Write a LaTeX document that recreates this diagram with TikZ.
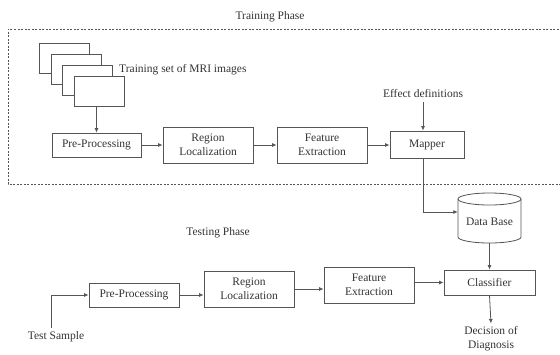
\documentclass[tikz,border=0pt]{standalone}
\usepackage{fontspec}
\setmainfont{Liberation Serif}
\usetikzlibrary{arrows.meta,calc}
\definecolor{ln}{HTML}{555555}
\definecolor{tx}{HTML}{333333}
\tikzset{
  lbl/.style={text=tx,font=\fontsize{11.5}{14}\selectfont,align=center,inner sep=0pt},
  blk/.style={draw=ln,line width=0.8pt,fill=white,text=tx,font=\fontsize{11.5}{14}\selectfont,align=center,inner sep=0pt,minimum width=#1},
  arr/.style={draw=ln,line width=0.8pt,-{Latex[length=4.5pt,width=4pt]}},
  img/.style={draw=ln,line width=0.8pt,fill=white,minimum width=50pt,minimum height=30pt,inner sep=0pt},
}
\begin{document}
\begin{tikzpicture}[x=1pt,y=-1pt]
\useasboundingbox (0,0) rectangle (560,354);
% training frame
\draw[ln,line width=0.6pt,dash pattern=on 2pt off 1.5pt] (562,29) -- (8,29) -- (8,184) -- (562,184);
\node[lbl] (trp) at (270,17) {Training Phase};
% image stack
\node[img] (img1) at (64,58) {};
\node[img] (img2) at (76,69) {};
\node[img] (img3) at (87,80) {};
\node[img] (img4) at (99,91) {};
\node[lbl,anchor=west] (imgt) at (119,70) {Training set of MRI images};
% training chain
\node[blk=89pt,minimum height=24pt] (pre1) at (96.5,145) {Pre-Processing};
\node[blk=90pt,minimum height=36pt] (reg1) at (208,145) {Region\\Localization};
\node[blk=90pt,minimum height=36pt] (fe1) at (322,145) {Feature\\Extraction};
\node[blk=74pt,minimum height=27pt] (map) at (427,144.5) {Mapper};
\node[lbl] (eff) at (423,94) {Effect definitions};
\draw[arr] (img4.south -| pre1.north) -- (pre1.north);
\draw[arr] (pre1.east) -- (reg1.west);
\draw[arr] (reg1.east) -- (fe1.west);
\draw[arr] (fe1.east) -- (fe1.east -| map.west);
\draw[arr] ($(eff.south)+(0,4)$) -- (eff.south |- map.north);
% database
\node[inner sep=0pt,minimum width=63pt,minimum height=50pt] (db) at (489.5,218) {};
\draw[ln,line width=0.8pt,fill=white] (458,199) -- (458,237) arc (180:0:31.5 and 6) -- (521,199) arc (0:-180:31.5 and 6) -- cycle;
\draw[ln,line width=0.8pt] (458,199) arc (180:0:31.5 and 6);
\node[lbl] (dbt) at (489.5,222) {Data Base};
\draw[arr] (eff.south |- map.south) |- ($(db.west)+(0,-6)$);
% testing
\node[lbl] (tsp) at (218,233) {Testing Phase};
\node[blk=90pt,minimum height=24pt] (pre2) at (134,295) {Pre-Processing};
\node[blk=90pt,minimum height=36pt] (reg2) at (249,289) {Region\\Localization};
\node[blk=90pt,minimum height=36pt] (fe2) at (369,285) {Feature\\Extraction};
\node[blk=91pt,minimum height=25pt] (cls) at (489.5,282.5) {Classifier};
\node[lbl] (ts) at (56,337) {Test Sample};
\node[lbl] (dec) at (491,339) {Decision of\\Diagnosis};
\draw[arr] ($(ts.north)+(-5,-4)$) |- (pre2.west);
\draw[arr] (pre2.east) -- (pre2.east -| reg2.west);
\draw[arr] (reg2.east) -- (reg2.east -| fe2.west);
\draw[arr] (fe2.east |- cls.west) -- (cls.west);
\draw[arr] (db.south) -- (cls.north);
\draw[arr] (cls.south) -- ($(dec.north)+(0,-3)$);
\end{tikzpicture}
\end{document}
